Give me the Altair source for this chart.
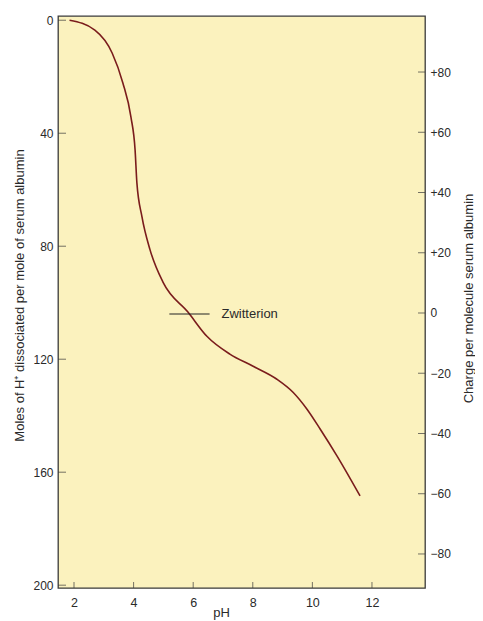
import altair as alt
import pandas as pd

# Titration curve of serum albumin
ph = [1.85, 2.70, 3.28, 3.64, 3.91, 4.05, 4.11, 4.28, 4.55, 4.99, 5.83, 6.46,
      7.23, 8.01, 8.81, 9.35, 9.82, 10.26, 10.83, 11.60]
moles = [0, 3.5, 11.6, 22.2, 34.2, 45.9, 57.5, 69.5, 81.2, 92.8, 103.4, 111.9,
         118.2, 122.5, 127.1, 131.7, 137.7, 144.7, 154.3, 168.4]

# Zwitterion marker
zw_ph_start = [5.2]
zw_ph_end = [6.55]
zw_moles = [104]
zw_label_ph = [6.95]
zw_label = ["Zwitterion"]

# Axis tick values
ph_ticks = [2, 4, 6, 8, 10, 12]
moles_ticks = [0, 40, 80, 120, 160, 200]
charge_ticks = [80, 60, 40, 20, 0, -20, -40, -60, -80]

X_DOMAIN = [1.463, 13.78]
MOLES_DOMAIN = [-1.5, 201]
CHARGE_DOMAIN = [-91.3, 98.6]

FONT = "Liberation Sans"
TXT = "#2a2a2a"
CURVE = "#7a1c1c"
FRAME = "#3a3a3a"

W, H = 367, 572


def xs():
    return alt.Scale(domain=X_DOMAIN, nice=False, zero=False)


def ys():
    return alt.Scale(domain=MOLES_DOMAIN, nice=False, zero=False, reverse=True)


def cs():
    return alt.Scale(domain=CHARGE_DOMAIN, nice=False, zero=False)


curve_df = pd.DataFrame({"ph": ph, "moles": moles})
zw_df = pd.DataFrame({"x1": zw_ph_start, "x2": zw_ph_end, "y": zw_moles,
                      "lx": zw_label_ph, "label": zw_label})
ph_tick_df = pd.DataFrame({"ph": ph_ticks})
moles_tick_df = pd.DataFrame({"moles": moles_ticks})
charge_tick_df = pd.DataFrame({"charge": charge_ticks})

x_axis = alt.Axis(
    orient="bottom", values=ph_ticks, title="pH", grid=False, domain=False,
    ticks=False, tickSize=0,
    labelPadding=8, labelFontSize=12.5, labelFont=FONT, labelColor=TXT,
    titleFont=FONT, titleFontSize=13, titleFontWeight="normal", titleColor=TXT,
    titleX=163, titleY=24, titleBaseline="middle", titleAlign="center",
)
left_axis = alt.Axis(
    orient="left", values=moles_ticks,
    title="Moles of H⁺ dissociated per mole of serum albumin",
    grid=False, domain=False, ticks=False, tickSize=0, labelPadding=5,
    labelFontSize=12, labelFont=FONT, labelColor=TXT,
    titleFont=FONT, titleFontSize=13, titleFontWeight="normal", titleColor=TXT,
    titleX=-39, titleY=279, titleBaseline="middle", titleAlign="center", titleAngle=270,
)
right_axis = alt.Axis(
    orient="right", values=charge_ticks,
    title="Charge per molecule serum albumin",
    labelExpr="datum.value > 0 ? '+' + datum.label : datum.label",
    grid=False, domain=False, ticks=False, tickSize=0, labelPadding=5,
    labelFontSize=12, labelFont=FONT, labelColor=TXT,
    titleFont=FONT, titleFontSize=13, titleFontWeight="normal", titleColor=TXT,
    titleX=43, titleY=282, titleBaseline="middle", titleAlign="center", titleAngle=270,
)

curve = alt.Chart(curve_df).mark_line(
    color=CURVE, strokeWidth=1.6, interpolate="monotone"
).encode(
    x=alt.X("ph:Q", scale=xs(), axis=x_axis),
    y=alt.Y("moles:Q", scale=ys(), axis=left_axis),
)

zw_line = alt.Chart(zw_df).mark_rule(color="#222222", strokeWidth=1.2).encode(
    x=alt.X("x1:Q", scale=xs(), axis=None),
    x2="x2:Q",
    y=alt.Y("y:Q", scale=ys(), axis=None),
)

zw_text = alt.Chart(zw_df).mark_text(
    align="left", baseline="middle", font=FONT, fontSize=13, color=TXT
).encode(
    x=alt.X("lx:Q", scale=xs(), axis=None),
    y=alt.Y("y:Q", scale=ys(), axis=None),
    text="label:N",
)

left_ticks = alt.Chart(moles_tick_df).mark_tick(
    orient="horizontal", size=16, thickness=1, color=FRAME, clip=True
).encode(
    x=alt.XDatum(X_DOMAIN[0], scale=xs(), axis=None),
    y=alt.Y("moles:Q", scale=ys(), axis=None),
)

bottom_ticks = alt.Chart(ph_tick_df).mark_tick(
    orient="vertical", size=12, thickness=1, color=FRAME, clip=True
).encode(
    x=alt.X("ph:Q", scale=xs(), axis=None),
    y=alt.YDatum(MOLES_DOMAIN[1], scale=ys(), axis=None),
)

right_ticks = alt.Chart(charge_tick_df).mark_tick(
    orient="horizontal", size=14, thickness=1, color=FRAME, clip=True
).encode(
    x=alt.XDatum(X_DOMAIN[1], scale=xs(), axis=None),
    y=alt.Y("charge:Q", scale=cs(), axis=right_axis),
)

chart = alt.layer(
    curve, zw_line, zw_text, left_ticks, bottom_ticks, right_ticks
).resolve_scale(
    y="independent"
).resolve_axis(
    x="independent"
).properties(
    width=W, height=H,
    autosize=alt.AutoSizeParams(type="none"),
    padding={"left": 50, "top": 8, "right": 50, "bottom": 33},
    background="white",
).configure_view(
    fill="#FBF2BE", stroke=FRAME, strokeWidth=1.3
)

chart.save("out.html", embed_options={"renderer": "svg", "actions": False})
